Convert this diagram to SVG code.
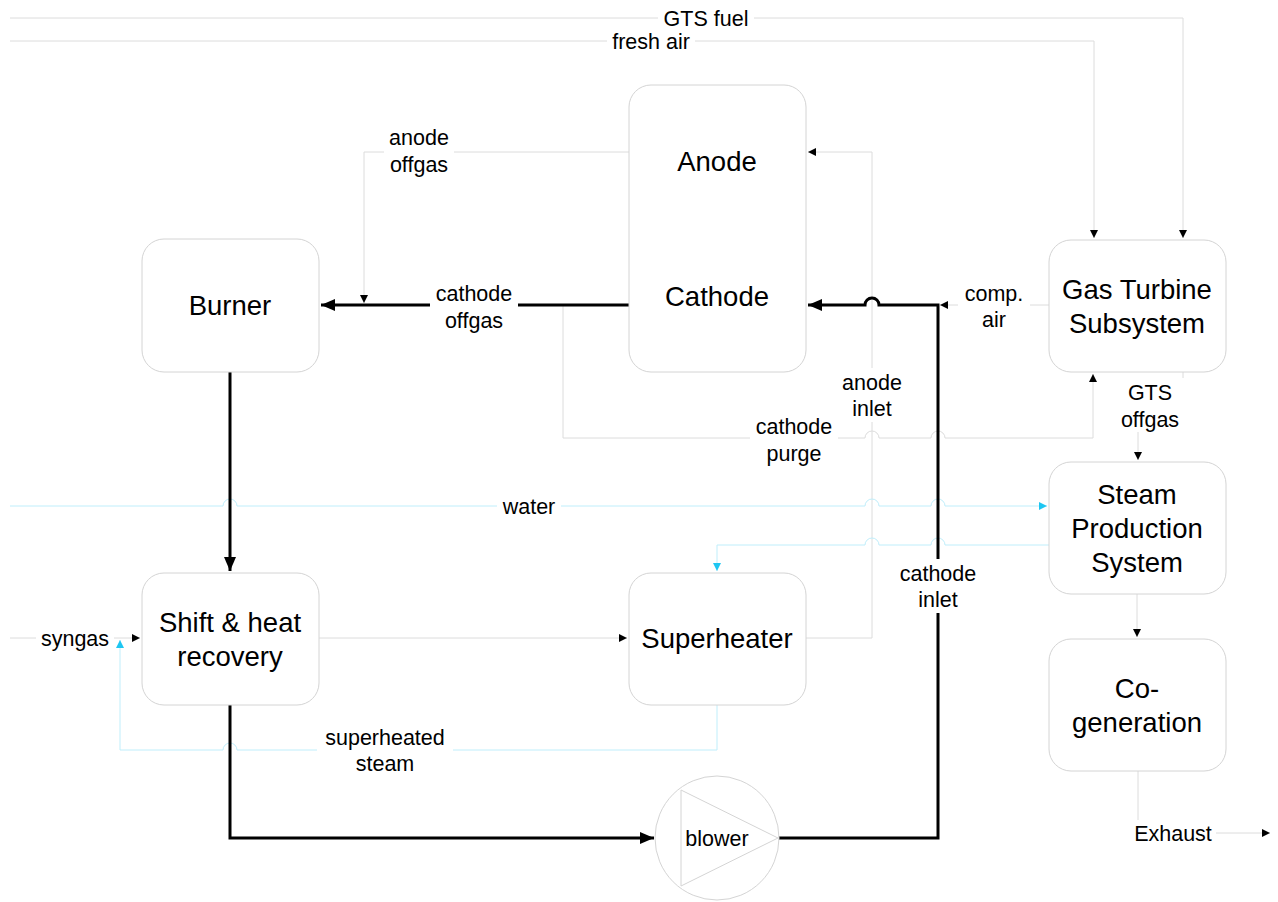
<svg xmlns="http://www.w3.org/2000/svg" width="1278" height="902" viewBox="0 0 1278 902">
<style>
.node{fill:#fff;stroke:#d4d4d4;stroke-width:1}
.nt{font-family:"Liberation Sans",Arial,sans-serif;font-size:27.5px;fill:#000;text-anchor:middle}
.lt{font-family:"Liberation Sans",Arial,sans-serif;font-size:21.5px;fill:#000;text-anchor:middle}
.thin{fill:none;stroke:#dcdcdc;stroke-width:1}
.cyan{fill:none;stroke:#bfeefb;stroke-width:1}
.thick{fill:none;stroke:#000;stroke-width:3}
.bg{fill:#fff;stroke:none}
</style>
<defs>
<marker id="ab" markerUnits="userSpaceOnUse" markerWidth="10" markerHeight="10" refX="9" refY="5" orient="auto"><path d="M1,1 L9,5 L1,9 z" fill="#000"/></marker>
<marker id="ac" markerUnits="userSpaceOnUse" markerWidth="10" markerHeight="10" refX="9" refY="5" orient="auto"><path d="M1,1 L9,5 L1,9 z" fill="#1ec6f2"/></marker>
<marker id="at" markerUnits="userSpaceOnUse" markerWidth="16" markerHeight="14" refX="15" refY="7" orient="auto"><path d="M1,1 L15,7 L1,13 z" fill="#000"/></marker>
</defs>
<rect width="1278" height="902" fill="#fff"/>
<g id="connectors">
<path class="thin" d="M10,18 H1183 V238" marker-end="url(#ab)"/>
<path class="thin" d="M10,41 H1094 V238" marker-end="url(#ab)"/>
<path class="thin" d="M629,152 H364 V303" marker-end="url(#ab)"/>
<path class="thin" d="M563,306 V438 H865 a7,7 0 0 1 14,0 H931 a7,7 0 0 1 14,0 H1093 V374" marker-end="url(#ab)"/>
<path class="thin" d="M806,638 H872 V152 H808" marker-end="url(#ab)"/>
<path class="thin" d="M1049,305 H940" marker-end="url(#ab)"/>
<path class="thin" d="M1183,372 V405 H1138 V460" marker-end="url(#ab)"/>
<path class="thin" d="M319,638 H627" marker-end="url(#ab)"/>
<path class="thin" d="M10,638 H140" marker-end="url(#ab)"/>
<path class="thin" d="M1137,594 V637" marker-end="url(#ab)"/>
<path class="thin" d="M1138,771 V833 H1270" marker-end="url(#ab)"/>
<path class="cyan" d="M10,506 H223 a7,7 0 0 1 14,0 H865 a7,7 0 0 1 14,0 H931 a7,7 0 0 1 14,0 H1047" marker-end="url(#ac)"/>
<path class="cyan" d="M1049,545 H945 a7,7 0 0 0 -14,0 H879 a7,7 0 0 0 -14,0 H717 V571" marker-end="url(#ac)"/>
<path class="cyan" d="M717,705 V750 H237 a7,7 0 0 0 -14,0 H120 V640" marker-end="url(#ac)"/>
<path class="thick" d="M629,305 H321" marker-end="url(#at)"/>
<path class="thick" d="M230,372 V571" marker-end="url(#at)"/>
<path class="thick" d="M230,705 V838 H654" marker-end="url(#at)"/>
<path class="thick" d="M778,838 H938 V305 H879 a7,7 0 0 0 -14,0 H808" marker-end="url(#at)"/>
<rect class="bg" x="658" y="5" width="96" height="26"/>
<text class="lt" x="706" y="26">GTS fuel</text>
<rect class="bg" x="607" y="28" width="88" height="26"/>
<text class="lt" x="651" y="49">fresh air</text>
<rect class="bg" x="384" y="123" width="70" height="54"/>
<text class="lt" x="419" y="145">anode</text>
<text class="lt" x="419" y="172">offgas</text>
<rect class="bg" x="430" y="279" width="88" height="54"/>
<text class="lt" x="474" y="301">cathode</text>
<text class="lt" x="474" y="328">offgas</text>
<rect class="bg" x="958" y="279" width="72" height="54"/>
<text class="lt" x="994" y="301">comp.</text>
<text class="lt" x="994" y="327">air</text>
<rect class="bg" x="836" y="368" width="72" height="54"/>
<text class="lt" x="872" y="390">anode</text>
<text class="lt" x="872" y="416">inlet</text>
<rect class="bg" x="750" y="412" width="88" height="54"/>
<text class="lt" x="794" y="434">cathode</text>
<text class="lt" x="794" y="461">purge</text>
<rect class="bg" x="1114" y="378" width="72" height="54"/>
<text class="lt" x="1150" y="400">GTS</text>
<text class="lt" x="1150" y="427">offgas</text>
<rect class="bg" x="497" y="493" width="64" height="26"/>
<text class="lt" x="529" y="514">water</text>
<rect class="bg" x="894" y="559" width="88" height="54"/>
<text class="lt" x="938" y="581">cathode</text>
<text class="lt" x="938" y="607">inlet</text>
<rect class="bg" x="36" y="625" width="78" height="26"/>
<text class="lt" x="75" y="646">syngas</text>
<rect class="bg" x="317" y="723" width="136" height="54"/>
<text class="lt" x="385" y="745">superheated</text>
<text class="lt" x="385" y="771">steam</text>
<rect class="bg" x="1130" y="820" width="86" height="26"/>
<text class="lt" x="1173" y="841">Exhaust</text>
</g>
<g id="fuelcell">
<rect class="node" x="629" y="85" width="177" height="287" rx="22"/>
<text class="nt" x="717" y="171">Anode</text>
<text class="nt" x="717" y="306">Cathode</text>
</g>
<g id="burner">
<rect class="node" x="142" y="239" width="177" height="133" rx="22"/>
<text class="nt" x="230" y="315">Burner</text>
</g>
<g id="gts">
<rect class="node" x="1049" y="240" width="177" height="132" rx="22"/>
<text class="nt" x="1137" y="299">Gas Turbine</text>
<text class="nt" x="1137" y="333">Subsystem</text>
</g>
<g id="steam">
<rect class="node" x="1049" y="462" width="177" height="132" rx="22"/>
<text class="nt" x="1137" y="504">Steam</text>
<text class="nt" x="1137" y="538">Production</text>
<text class="nt" x="1137" y="572">System</text>
</g>
<g id="cogen">
<rect class="node" x="1049" y="639" width="177" height="132" rx="22"/>
<text class="nt" x="1137" y="698">Co-</text>
<text class="nt" x="1137" y="732">generation</text>
</g>
<g id="shift">
<rect class="node" x="142" y="573" width="177" height="132" rx="22"/>
<text class="nt" x="230" y="632">Shift &amp; heat</text>
<text class="nt" x="230" y="666">recovery</text>
</g>
<g id="superheater">
<rect class="node" x="629" y="573" width="177" height="132" rx="22"/>
<text class="nt" x="717" y="648">Superheater</text>
</g>
<g id="blower">
<circle cx="717" cy="838" r="62" fill="#fff" stroke="#d4d4d4" stroke-width="1"/>
<path d="M681,790 L681,886 L778,838 z" fill="none" stroke="#d4d4d4" stroke-width="1"/>
<text class="lt" x="717" y="846">blower</text>
</g>
</svg>
